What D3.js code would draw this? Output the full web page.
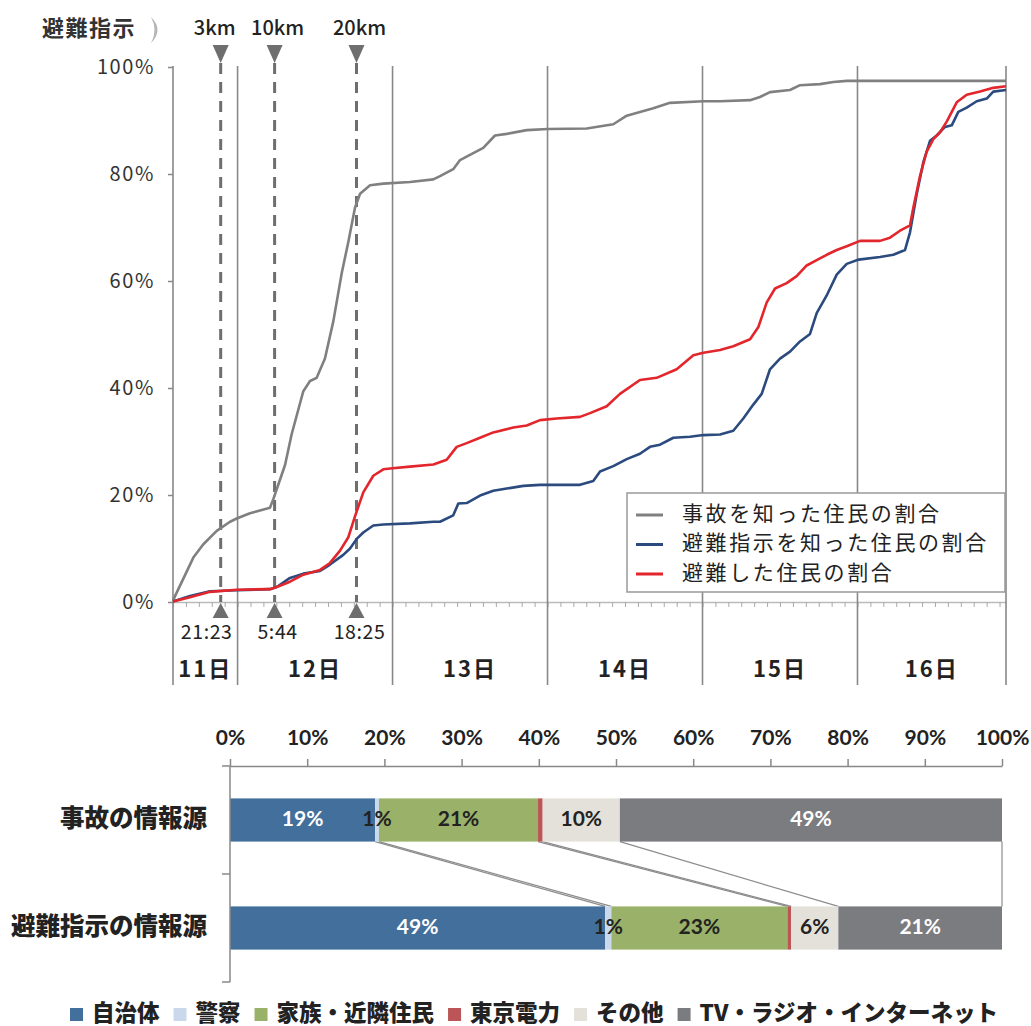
<!DOCTYPE html>
<html>
<head>
<meta charset="utf-8">
<script src="https://cdn.jsdelivr.net/npm/d3@7"></script>
<style>
body { margin: 0; background: #fff; }
svg text { font-family: "Noto Sans CJK JP", sans-serif; }
</style>
</head>
<body>
<svg id="chart" width="1031" height="1026"></svg>
<script>
const parseTime = d3.timeParse("%m/%d %H:%M");

// --- line chart data: [time, percent]
const accidentAware = [
    ["3/11 14:00", 0.3], ["3/11 17:09", 8.3], ["3/11 18:42", 10.8], ["3/11 20:46", 13.3],
    ["3/11 22:50", 15.0], ["3/11 23:52", 15.6], ["3/12 01:55", 16.6], ["3/12 03:28", 17.1],
    ["3/12 05:01", 17.6], ["3/12 05:32", 19.2], ["3/12 07:21", 25.6], ["3/12 08:23", 31.4],
    ["3/12 10:11", 39.4], ["3/12 11:13", 41.3], ["3/12 12:15", 41.9], ["3/12 13:32", 45.5],
    ["3/12 14:50", 52.5], ["3/12 16:08", 61.5], ["3/12 17:09", 67.3], ["3/12 18:11", 73.7],
    ["3/12 18:58", 76.3], ["3/12 20:31", 77.9], ["3/12 22:34", 78.2], ["3/13 02:42", 78.5],
    ["3/13 06:19", 79.0], ["3/13 07:21", 79.6], ["3/13 09:24", 80.9], ["3/13 10:27", 82.6],
    ["3/13 12:30", 83.9], ["3/13 14:03", 84.9], ["3/13 15:52", 87.2], ["3/13 17:41", 87.5],
    ["3/13 20:47", 88.2], ["3/14 00:02", 88.4], ["3/14 06:04", 88.5], ["3/14 10:11", 89.3],
    ["3/14 12:16", 90.9], ["3/14 14:19", 91.6], ["3/14 16:23", 92.3], ["3/14 18:58", 93.3],
    ["3/15 00:08", 93.6], ["3/15 02:43", 93.6], ["3/15 07:22", 93.8], ["3/15 08:54", 94.4],
    ["3/15 10:27", 95.3], ["3/15 13:33", 95.7], ["3/15 15:06", 96.6], ["3/15 18:12", 96.8],
    ["3/15 20:16", 97.2], ["3/15 22:20", 97.4], ["3/16 23:00", 97.4]
]

const orderAware = [
    ["3/11 14:00", 0.1], ["3/11 16:38", 1.1], ["3/11 19:44", 2.0], ["3/11 23:52", 2.2],
    ["3/12 05:01", 2.4], ["3/12 06:04", 2.8], ["3/12 08:07", 4.5], ["3/12 10:11", 5.3],
    ["3/12 12:46", 5.8], ["3/12 14:19", 7.0], ["3/12 16:22", 8.8], ["3/12 17:25", 10.0],
    ["3/12 18:27", 11.8], ["3/12 19:28", 13.0], ["3/12 21:01", 14.3], ["3/12 22:34", 14.5],
    ["3/13 02:42", 14.7], ["3/13 06:19", 15.0], ["3/13 07:21", 15.0], ["3/13 09:24", 16.2],
    ["3/13 10:11", 18.4], ["3/13 11:29", 18.5], ["3/13 13:33", 19.9], ["3/13 15:36", 20.8],
    ["3/13 17:41", 21.2], ["3/13 20:15", 21.7], ["3/13 22:50", 21.9], ["3/14 05:02", 21.9],
    ["3/14 07:05", 22.6], ["3/14 08:08", 24.4], ["3/14 10:11", 25.4], ["3/14 12:16", 26.7],
    ["3/14 14:19", 27.7], ["3/14 15:52", 29.0], ["3/14 17:25", 29.4], ["3/14 19:29", 30.7],
    ["3/14 22:04", 30.9], ["3/15 00:08", 31.2], ["3/15 02:43", 31.3], ["3/15 04:46", 32.0],
    ["3/15 06:19", 34.3], ["3/15 07:52", 36.9], ["3/15 09:10", 38.9], ["3/15 10:27", 43.5],
    ["3/15 12:00", 45.5], ["3/15 13:33", 46.8], ["3/15 15:06", 48.7], ["3/15 16:39", 50.1],
    ["3/15 17:41", 54.0], ["3/15 19:14", 57.3], ["3/15 20:47", 61.2], ["3/15 22:20", 63.2],
    ["3/16 00:12", 64.0], ["3/16 03:29", 64.5], ["3/16 05:33", 64.9], ["3/16 07:22", 65.8],
    ["3/16 08:08", 69.1], ["3/16 09:11", 76.3], ["3/16 10:12", 82.2], ["3/16 11:14", 86.2],
    ["3/16 12:16", 87.2], ["3/16 13:33", 88.8], ["3/16 14:36", 89.1], ["3/16 15:37", 91.6],
    ["3/16 16:55", 92.4], ["3/16 18:28", 93.6], ["3/16 20:01", 94.1], ["3/16 21:02", 95.4],
    ["3/16 23:00", 95.7]
]

const evacuated = [
    ["3/11 14:00", 0.1], ["3/11 16:38", 0.9], ["3/11 19:44", 1.9], ["3/11 23:52", 2.3],
    ["3/12 05:01", 2.4], ["3/12 06:04", 2.8], ["3/12 08:07", 3.8], ["3/12 10:11", 5.1],
    ["3/12 12:46", 6.0], ["3/12 14:19", 7.3], ["3/12 15:52", 9.6], ["3/12 17:09", 12.1],
    ["3/12 18:11", 16.0], ["3/12 19:28", 20.5], ["3/12 21:01", 23.6], ["3/12 22:34", 24.8],
    ["3/13 00:01", 25.0], ["3/13 02:42", 25.3], ["3/13 06:19", 25.7], ["3/13 08:23", 26.6],
    ["3/13 09:56", 29.0], ["3/13 11:29", 29.7], ["3/13 13:33", 30.7], ["3/13 15:36", 31.7],
    ["3/13 18:42", 32.6], ["3/13 20:47", 33.0], ["3/13 22:50", 34.0], ["3/14 01:25", 34.3],
    ["3/14 05:02", 34.6], ["3/14 06:35", 35.3], ["3/14 09:10", 36.6], ["3/14 11:13", 38.9],
    ["3/14 14:19", 41.5], ["3/14 16:54", 41.9], ["3/14 20:00", 43.5], ["3/14 22:35", 46.1],
    ["3/15 00:08", 46.6], ["3/15 02:43", 47.1], ["3/15 04:46", 47.8], ["3/15 07:22", 49.1],
    ["3/15 08:39", 51.4], ["3/15 09:57", 56.0], ["3/15 11:14", 58.6], ["3/15 13:02", 59.6],
    ["3/15 14:35", 60.9], ["3/15 16:08", 62.9], ["3/15 17:41", 63.9], ["3/15 19:14", 64.9],
    ["3/15 20:47", 65.8], ["3/15 22:20", 66.5], ["3/16 00:24", 67.5], ["3/16 03:29", 67.5],
    ["3/16 05:02", 68.1], ["3/16 06:35", 69.4], ["3/16 08:08", 70.4], ["3/16 08:39", 73.7],
    ["3/16 09:41", 79.6], ["3/16 10:43", 84.2], ["3/16 11:45", 86.5], ["3/16 12:47", 87.8],
    ["3/16 13:49", 89.8], ["3/16 15:22", 93.4], ["3/16 16:55", 94.8], ["3/16 18:59", 95.4],
    ["3/16 21:02", 96.1], ["3/16 23:00", 96.4]
]

const seriesNames = ["事故を知った住民の割合", "避難指示を知った住民の割合", "避難した住民の割合"]
const seriesColors = ["#808080", "#2b4a7e", "#e2262c"]

const dayNames = ["11日", "12日", "13日", "14日", "15日", "16日"]
const dayBounds = ["3/11 14:00", "3/12 00:00", "3/13 00:00", "3/14 00:00", "3/15 00:00", "3/16 00:00", "3/16 23:00"]
const orderZones = ["3km", "10km", "20km"]
const orderTimes = ["3/11 21:23", "3/12 05:44", "3/12 18:25"]
const orderTimeLabels = ["21:23", "5:44", "18:25"]
const yTicks = [0, 20, 40, 60, 80, 100]

// --- stacked bar data
const sourceRows = ["事故の情報源", "避難指示の情報源"]
const sourceNames = ["自治体", "警察", "家族・近隣住民", "東京電力", "その他", "TV・ラジオ・インターネット"]
const accidentShares = [18.8, 0.5, 20.6, 0.6, 10.0, 49.5]
const accidentLabels = ["19%", "1%", "21%", "", "10%", "49%"]
const orderShares = [48.6, 0.8, 22.8, 0.5, 6.1, 21.2]
const orderLabels = ["49%", "1%", "23%", "", "6%", "21%"]
const sourceColors = ["#436f9c", "#c9d8ea", "#9ab16a", "#bc5557", "#e4e1da", "#7b7c80"]
const barTicks = d3.range(0, 101, 10)

const svg = d3.select("#chart")

// ================= line chart =================
const x = d3.scaleTime()
    .domain([parseTime(dayBounds[0]), parseTime(dayBounds[dayBounds.length - 1])])
    .range([173, 1006])
const y = d3.scaleLinear().domain([0, 100]).range([602, 67])

// y axis (labels + small ticks)
svg.append("g")
    .attr("transform", "translate(173,0)")
    .call(d3.axisLeft(y).tickValues(yTicks).tickFormat(d => d + "%").tickSize(5).tickPadding(13))
    .call(g => g.select(".domain").remove())
    .call(g => g.selectAll(".tick line").attr("stroke", "#888").attr("stroke-width", 1.5))
    .call(g => g.selectAll("text")
        .attr("font-size", 20)
        .attr("letter-spacing", 1.6)
        .attr("fill", "#333")
        .style("font-family", "'Noto Sans CJK JP', sans-serif"))

// 2-hour minor ticks along the bottom
svg.append("g")
    .attr("transform", `translate(0,${y(0)})`)
    .call(d3.axisBottom(x).ticks(d3.timeHour.every(2)).tickFormat("").tickSize(5).tickSizeOuter(0))
    .call(g => g.select(".domain").attr("stroke", "#bbb").attr("stroke-width", 1.5))
    .call(g => g.selectAll(".tick line").attr("stroke", "#aaa"))

// day separators
svg.append("g")
    .selectAll("line")
    .data(dayBounds)
    .join("line")
    .attr("x1", d => x(parseTime(d)))
    .attr("x2", d => x(parseTime(d)))
    .attr("y1", 66)
    .attr("y2", 685)
    .attr("stroke", "#888")
    .attr("stroke-width", 1.6)

svg.append("g")
    .selectAll("text")
    .data(dayNames)
    .join("text")
    .attr("x", (d, i) => (x(parseTime(dayBounds[i])) + x(parseTime(dayBounds[i + 1]))) / 2)
    .attr("y", 671)
    .attr("text-anchor", "middle")
    .attr("dominant-baseline", "middle")
    .attr("font-size", 22)
    .attr("font-weight", 700)
    .attr("letter-spacing", 2)
    .attr("fill", "#222")
    .text(d => d)

// evacuation order markers
const marks = svg.append("g")
marks.selectAll("line")
    .data(orderTimes)
    .join("line")
    .attr("x1", d => x(parseTime(d)))
    .attr("x2", d => x(parseTime(d)))
    .attr("y1", 63)
    .attr("y2", y(0))
    .attr("stroke", "#6e6e6e")
    .attr("stroke-width", 3)
    .attr("stroke-dasharray", "11,8")

marks.selectAll(".down")
    .data(orderTimes)
    .join("path")
    .attr("class", "down")
    .attr("d", d => { const cx = x(parseTime(d)); return `M${cx - 8},45L${cx + 8},45L${cx},63Z` })
    .attr("fill", "#6e6e6e")

marks.selectAll(".up")
    .data(orderTimes)
    .join("path")
    .attr("class", "up")
    .attr("d", d => { const cx = x(parseTime(d)); return `M${cx},603L${cx + 8},618L${cx - 8},618Z` })
    .attr("fill", "#6e6e6e")

marks.selectAll(".zone")
    .data(orderZones)
    .join("text")
    .attr("class", "zone")
    .attr("x", (d, i) => x(parseTime(orderTimes[i])) + (i == 0 ? -6 : 3))
    .attr("y", 30)
    .attr("text-anchor", "middle")
    .attr("dominant-baseline", "middle")
    .attr("font-size", 20)
    .attr("font-weight", 500)
    .attr("fill", "#222")
    .text(d => d)

marks.selectAll(".clock")
    .data(orderTimeLabels)
    .join("text")
    .attr("class", "clock")
    .attr("x", (d, i) => x(parseTime(orderTimes[i])) + (i == 0 ? -14 : 3))
    .attr("y", 634)
    .attr("text-anchor", "middle")
    .attr("dominant-baseline", "middle")
    .attr("font-size", 19.5)
    .attr("letter-spacing", 0.6)
    .attr("fill", "#222")
    .text(d => d)

svg.append("text")
    .attr("x", 42)
    .attr("y", 30)
    .attr("dominant-baseline", "middle")
    .attr("font-size", 22)
    .attr("font-weight", 700)
    .attr("letter-spacing", 1.5)
    .attr("fill", "#333")
    .text("避難指示")
svg.append("path")
    .attr("d", "M151,17Q164,30 151,43Q158,30 151,17Z")
    .attr("fill", "#b5b5b5")

// curves
const line = d3.line()
    .x(d => x(parseTime(d[0])))
    .y(d => y(d[1]))

svg.append("g")
    .selectAll("path")
    .data([accidentAware, orderAware, evacuated])
    .join("path")
    .attr("d", line)
    .attr("fill", "none")
    .attr("stroke", (d, i) => seriesColors[i])
    .attr("stroke-width", 2.6)
    .attr("stroke-linejoin", "round")

// legend box
const lg = svg.append("g").attr("transform", "translate(627,493)")
lg.append("rect")
    .attr("width", 378)
    .attr("height", 99)
    .attr("fill", "#fff")
    .attr("stroke", "#999")
    .attr("stroke-width", 1.5)
const lgRow = lg.selectAll("g")
    .data(seriesNames)
    .join("g")
    .attr("transform", (d, i) => `translate(0,${22 + i * 29.5})`)
lgRow.append("line")
    .attr("x1", 9)
    .attr("x2", 36)
    .attr("stroke", (d, i) => seriesColors[i])
    .attr("stroke-width", 3)
lgRow.append("text")
    .attr("x", 55)
    .attr("dominant-baseline", "middle")
    .attr("font-size", 21)
    .attr("letter-spacing", 2.6)
    .attr("fill", "#222")
    .text(d => d)

// ================= stacked bars =================
const bx = d3.scaleLinear().domain([0, 100]).range([230, 1002])
const by = d3.scaleBand().domain(sourceRows).range([766, 982]).paddingInner(0.6).paddingOuter(0.3)

const shares = [accidentShares, orderShares]
const labels = [accidentLabels, orderLabels]
const rows = sourceRows.map((r, i) => {
    const o = { row: r }
    sourceNames.forEach((s, j) => o[s] = shares[i][j])
    return o
})
const stacked = d3.stack().keys(sourceNames)(rows)

// series lines between the two bars
svg.append("g")
    .selectAll("line")
    .data(stacked)
    .join("line")
    .attr("x1", s => bx(s[0][1]))
    .attr("y1", by(sourceRows[0]) + by.bandwidth())
    .attr("x2", s => bx(s[1][1]))
    .attr("y2", by(sourceRows[1]))
    .attr("stroke", "#8c8c8c")
    .attr("stroke-width", 1.2)

svg.append("g")
    .selectAll("g")
    .data(stacked)
    .join("g")
    .attr("fill", (s, i) => sourceColors[i])
    .selectAll("rect")
    .data(s => s)
    .join("rect")
    .attr("x", d => bx(d[0]))
    .attr("y", d => by(d.data.row))
    .attr("width", d => bx(d[1]) - bx(d[0]))
    .attr("height", by.bandwidth())

svg.append("g")
    .selectAll("g")
    .data(stacked)
    .join("g")
    .selectAll("text")
    .data((s, i) => s.map((d, r) => ({ d, r, i })))
    .join("text")
    .attr("x", o => (bx(o.d[0]) + bx(o.d[1])) / 2)
    .attr("y", o => by(o.d.data.row) + by.bandwidth() / 2 + 1)
    .attr("text-anchor", "middle")
    .attr("dominant-baseline", "middle")
    .attr("font-size", 21)
    .attr("font-weight", 700)
    .style("font-family", "Lato, sans-serif")
    .attr("fill", o => (o.i == 0 || o.i == 5) ? "#fff" : "#222")
    .text(o => labels[o.r][o.i])

// top percent axis
svg.append("g")
    .attr("transform", "translate(0,766)")
    .call(d3.axisTop(bx).tickValues(barTicks).tickFormat(d => d + "%").tickSize(7).tickPadding(14).tickSizeOuter(0))
    .call(g => g.select(".domain").attr("stroke", "#888").attr("stroke-width", 1.5))
    .call(g => g.selectAll(".tick line").attr("stroke", "#888").attr("stroke-width", 1.5))
    .call(g => g.selectAll("text")
        .attr("font-size", 21)
        .attr("font-weight", 700)
        .attr("fill", "#222")
        .style("font-family", "Lato, sans-serif"))

// left category axis with ticks on band boundaries
const r0 = by.range()[0], r1 = by.range()[1]
const bounds = d3.range(sourceRows.length + 1).map(i => r0 + i * (r1 - r0) / sourceRows.length)
const ax = svg.append("g").attr("stroke", "#888").attr("stroke-width", 1.5)
ax.append("line").attr("x1", bx(0)).attr("x2", bx(0)).attr("y1", r0).attr("y2", r1)
ax.selectAll(".bt")
    .data(bounds)
    .join("line")
    .attr("x1", bx(0) - 8)
    .attr("x2", bx(0))
    .attr("y1", d => d)
    .attr("y2", d => d)

svg.append("g")
    .selectAll("text")
    .data(sourceRows)
    .join("text")
    .attr("x", 207)
    .attr("y", d => by(d) + by.bandwidth() / 2)
    .attr("text-anchor", "end")
    .attr("dominant-baseline", "middle")
    .attr("font-size", 24.5)
    .attr("font-weight", 900)
    .attr("fill", "#222")
    .text(d => d)

// bottom legend, laid out left to right
const leg = svg.append("g").attr("transform", "translate(0,1015)")
let lx = 70
sourceNames.forEach((s, i) => {
    leg.append("rect")
        .attr("x", lx)
        .attr("y", -7)
        .attr("width", 13)
        .attr("height", 13)
        .attr("fill", sourceColors[i])
    const t = leg.append("text")
        .attr("x", lx + 22)
        .attr("dominant-baseline", "middle")
        .attr("font-size", 22.5)
        .attr("font-weight", 900)
        .attr("fill", "#222")
        .text(s)
    lx += 22 + t.node().getComputedTextLength() + 14
})
</script>
</body>
</html>
